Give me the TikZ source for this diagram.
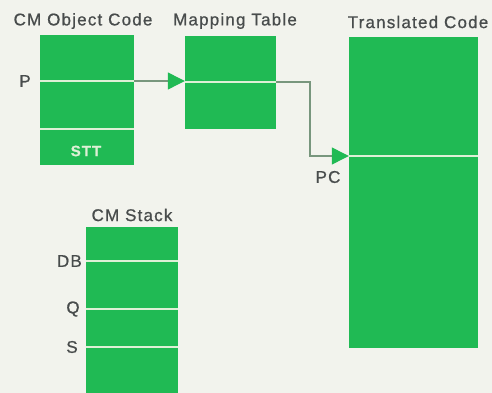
\documentclass[tikz,border=0pt]{standalone}
\usepackage{fontspec}
\setmainfont{Liberation Sans}
\newfontfamily\labfont[LetterSpace=7,FakeBold=0.8]{Liberation Sans}
\usetikzlibrary{arrows.meta}
\definecolor{bg}{RGB}{242,243,237}
\definecolor{boxgreen}{RGB}{32,186,84}
\definecolor{sepline}{RGB}{222,240,214}
\definecolor{txt}{RGB}{72,76,76}
\definecolor{conncol}{RGB}{120,150,125}
\tikzset{
  box/.style={fill=boxgreen, draw=none, inner sep=0pt, rectangle},
  sep/.style={draw=sepline, line width=2.2pt},
  title/.style={text=txt, font=\labfont\fontsize{17}{19}\selectfont, inner sep=0pt},
  lbl/.style={text=txt, font=\labfont\fontsize{17}{19}\selectfont, inner sep=0pt},
  conn/.style={draw=conncol, line width=1.2pt, -{Triangle[length=17pt,width=17pt,color=boxgreen]}}
}
\begin{document}
\begin{tikzpicture}[x=1pt,y=-1pt]
\fill[bg] (0,0) rectangle (492,393);
\useasboundingbox (0,0) rectangle (492,393);
% titles
\node[title] (t1) at (83,21) {CM Object Code};
\node[title] (t2) at (235,21) {Mapping Table};
\node[title] (t3) at (418,22) {Translated Code};
\node[title] (t4) at (132,215) {CM Stack};
% boxes
\node[box, minimum width=94pt, minimum height=130pt] (obj) at (87,100) {};
\node[box, minimum width=91pt, minimum height=93pt] (map) at (230.5,82.5) {};
\node[box, minimum width=129pt, minimum height=311pt] (trans) at (413.5,192.5) {};
\node[box, minimum width=92pt, minimum height=166pt] (stack) at (132,310) {};
% labels
\node[lbl] (P) at (25,81) {P};
\node[lbl] (PC) at (328,177) {PC};
\node[lbl, anchor=east] (DB) at (82,261) {DB};
\node[lbl] (Q) at (73,309) {Q};
\node[lbl] (S) at (72,347) {S};
\node[text=sepline, font=\labfont\fontsize{15}{17}\selectfont\bfseries, inner sep=0pt] (STT) at (86,151) {STT};
% coordinates of separator rows
\coordinate (mrow) at (0,82);
\coordinate (srow) at (0,129);
\coordinate (trow) at (0,156);
% separator lines
\draw[sep] (obj.west |- P) -- (obj.east |- P);
\draw[sep] (obj.west |- srow) -- (obj.east |- srow);
\draw[sep] (map.west |- mrow) -- (map.east |- mrow);
\draw[sep] (trans.west |- trow) -- (trans.east |- trow);
\draw[sep] (stack.west |- DB) -- (stack.east |- DB);
\draw[sep] (stack.west |- Q) -- (stack.east |- Q);
\draw[sep] (stack.west |- S) -- (stack.east |- S);
% connectors
\coordinate (bend) at (310,120);
\draw[conn] (obj.east |- P) -- (map.west |- P);
\draw[conn] (map.east |- mrow) -| (bend) |- (trans.west |- trow);
\end{tikzpicture}
\end{document}
